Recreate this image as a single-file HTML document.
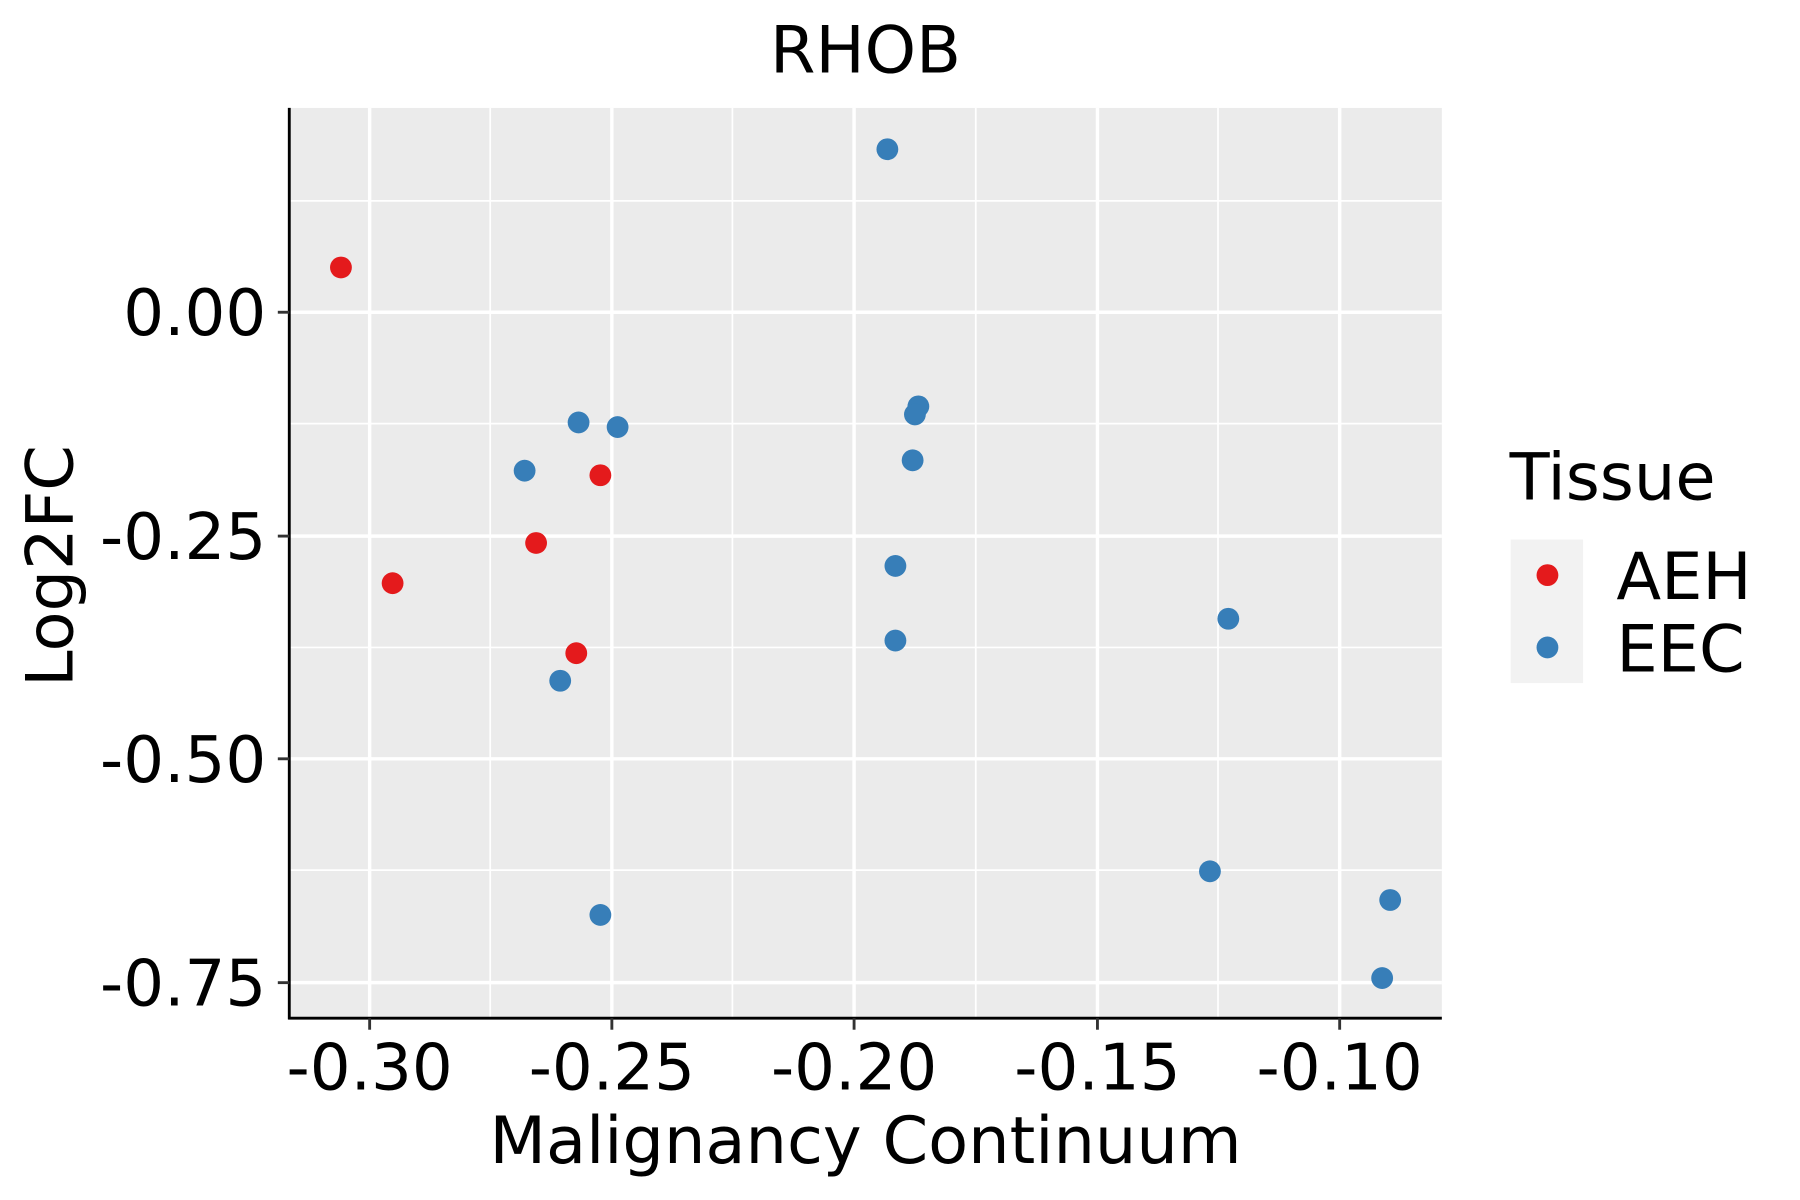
<!DOCTYPE html>
<html><head><style>html,body{margin:0;padding:0;background:#fff}svg{display:block}</style></head>
<body>
<svg width="1800" height="1200" viewBox="0 0 1568 1045.33" xmlns="http://www.w3.org/2000/svg" font-family="DejaVu Sans, Liberation Sans, sans-serif">
<rect width="1568" height="1046" fill="#fff"/>
<rect x="252" y="94" width="1004" height="793" fill="#ebebeb"/>
<g stroke="#fff" stroke-width="1.5">
<line x1="427" y1="94" x2="427" y2="887"/><line x1="638" y1="94" x2="638" y2="887"/><line x1="850" y1="94" x2="850" y2="887"/><line x1="1061" y1="94" x2="1061" y2="887"/>
<line x1="252" y1="175" x2="1256" y2="175"/><line x1="252" y1="369" x2="1256" y2="369"/><line x1="252" y1="564" x2="1256" y2="564"/><line x1="252" y1="758" x2="1256" y2="758"/>
</g>
<g stroke="#fff" stroke-width="3">
<line x1="322" y1="94" x2="322" y2="887"/><line x1="533" y1="94" x2="533" y2="887"/><line x1="744" y1="94" x2="744" y2="887"/><line x1="956" y1="94" x2="956" y2="887"/><line x1="1167" y1="94" x2="1167" y2="887"/>
<line x1="252" y1="272" x2="1256" y2="272"/><line x1="252" y1="467" x2="1256" y2="467"/><line x1="252" y1="661" x2="1256" y2="661"/><line x1="252" y1="856" x2="1256" y2="856"/>
</g>
<g stroke="#000" stroke-width="2.5">
<line x1="252" y1="94" x2="252" y2="888"/><line x1="251" y1="887" x2="1256" y2="887"/>
</g>
<g stroke="#333" stroke-width="2.5">
<line x1="242" y1="272" x2="252" y2="272"/><line x1="242" y1="467" x2="252" y2="467"/><line x1="242" y1="661" x2="252" y2="661"/><line x1="242" y1="856" x2="252" y2="856"/>
<line x1="322" y1="887" x2="322" y2="897"/><line x1="533" y1="887" x2="533" y2="897"/><line x1="744" y1="887" x2="744" y2="897"/><line x1="956" y1="887" x2="956" y2="897"/><line x1="1167" y1="887" x2="1167" y2="897"/>
</g>
<g font-size="56" fill="#000" text-anchor="end">
<text x="232" y="292">0.00</text><text x="232" y="487">-0.25</text><text x="232" y="681">-0.50</text><text x="232" y="876">-0.75</text>
</g>
<g font-size="56" fill="#000" text-anchor="middle">
<text x="322" y="949">-0.30</text><text x="533" y="949">-0.25</text><text x="744" y="949">-0.20</text><text x="956" y="949">-0.15</text><text x="1167" y="949">-0.10</text>
<text x="754" y="1013" font-size="57">Malignancy Continuum</text>
<text x="754" y="63" font-size="57">RHOB</text>
<text transform="translate(63,493) rotate(-90)" font-size="57">Log2FC</text>
</g>
<g fill="#377eb8">
<circle cx="773" cy="130" r="9.5"/><circle cx="504" cy="368" r="9.5"/><circle cx="538" cy="372" r="9.5"/><circle cx="457" cy="410" r="9.5"/>
<circle cx="800" cy="354" r="9.5"/><circle cx="797" cy="361" r="9.5"/><circle cx="795" cy="401" r="9.5"/><circle cx="780" cy="493" r="9.5"/>
<circle cx="780" cy="558" r="9.5"/><circle cx="488" cy="593" r="9.5"/><circle cx="523" cy="797" r="9.5"/><circle cx="1070" cy="539" r="9.5"/>
<circle cx="1054" cy="759" r="9.5"/><circle cx="1211" cy="784" r="9.5"/><circle cx="1204" cy="852" r="9.5"/>
</g>
<g fill="#e41a1c">
<circle cx="297" cy="233" r="9.5"/><circle cx="523" cy="414" r="9.5"/><circle cx="467" cy="473" r="9.5"/><circle cx="342" cy="508" r="9.5"/><circle cx="502" cy="569" r="9.5"/>
</g>
<text x="1315" y="435" font-size="57" fill="#000">Tissue</text>
<rect x="1316" y="470" width="63" height="125" fill="#f2f2f2"/>
<circle cx="1348" cy="501" r="9.5" fill="#e41a1c"/>
<circle cx="1348" cy="564" r="9.5" fill="#377eb8"/>
<text x="1408" y="522" font-size="57" fill="#000">AEH</text>
<text x="1408" y="585" font-size="57" fill="#000">EEC</text>
</svg>
</body></html>
